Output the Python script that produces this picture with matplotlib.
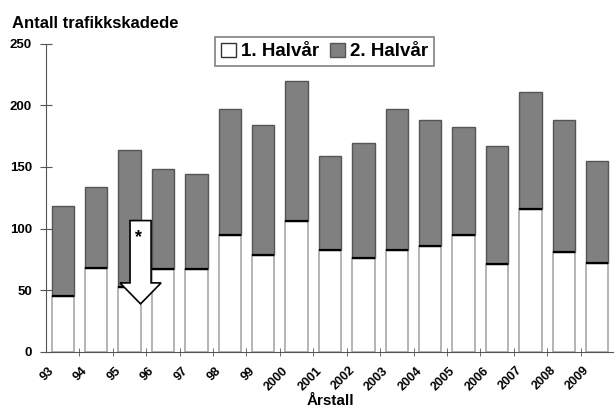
import matplotlib.pyplot as plt
import matplotlib.transforms as mtransforms
from matplotlib.patches import FancyArrow, Patch
import numpy as np

plt.rcParams['font.family'] = ['Liberation Sans', 'DejaVu Sans']
plt.rcParams['font.weight'] = 'bold'

# data
years = ['93', '94', '95', '96', '97', '98', '99', '2000', '2001', '2002',
         '2003', '2004', '2005', '2006', '2007', '2008', '2009']
first_half = [45, 68, 53, 67, 67, 95, 79, 106, 83, 76, 83, 86, 95, 71, 116, 81, 72]
second_half = [73, 66, 111, 81, 77, 102, 105, 114, 76, 93, 114, 102, 87, 96, 95, 107, 83]

x = np.arange(len(years))
w = 0.67

fig = plt.figure(figsize=(6.14, 4.12), dpi=100)
ax = fig.add_axes([46/614, 60/412, 568/614, 308.5/412])

ax.bar(x, first_half, w, color='white', edgecolor='#a0a0a0', linewidth=1.1)
ax.bar(x, second_half, w, bottom=first_half, color='#808080',
       edgecolor='#555555', linewidth=1)
ax.hlines(first_half, x - w/2, x + w/2, color='black', linewidth=1.6)

# arrow marking 95
arr = FancyArrow(2.33, 106.5, 0, -67.5, width=0.63, head_width=1.23,
                 head_length=17, length_includes_head=True,
                 facecolor='white', edgecolor='black', linewidth=1.2, zorder=5)
ax.add_patch(arr)
ax.text(2.27, 93, '*', ha='center', va='center', fontsize=13,
        fontweight='bold', zorder=6)

ax.set_xlim(-0.5, len(years) - 0.5)
ax.set_ylim(0, 250)
ax.set_yticks([0, 50, 100, 150, 200, 250])

ax.set_xticks(x)
ax.set_xticklabels(years, rotation=45, ha='right', fontsize=9)
ax.set_xticks(x + 0.5, minor=True)
ax.tick_params(axis='x', which='major', length=0, pad=9)
ax.tick_params(axis='x', which='minor', length=6, direction='inout',
               color='#555555')
ax.tick_params(axis='y', length=8, direction='inout', color='#555555',
               labelsize=9.5, pad=6)
shift = mtransforms.ScaledTranslation(-0.06, 0, fig.dpi_scale_trans)
for lab in ax.get_xticklabels():
    lab.set_transform(lab.get_transform() + shift)

for s in ['top', 'right']:
    ax.spines[s].set_visible(False)
for s in ['left', 'bottom']:
    ax.spines[s].set_color('#555555')

ax.set_xlabel('Årstall', fontsize=11, fontweight='bold', labelpad=1)
fig.text(12/614, 1 - 24/412, 'Antall trafikkskadede', fontsize=12,
         fontweight='bold', va='center', ha='left')

handles = [Patch(facecolor='white', edgecolor='#333333', linewidth=1),
           Patch(facecolor='#808080', edgecolor='#555555', linewidth=1)]
leg = fig.legend(handles, ['1. Halvår', '2. Halvår'], loc='center',
                 bbox_to_anchor=(324.5/614, 1 - 51.5/412), ncol=2,
                 fancybox=False, edgecolor='#808080', fontsize=13.5,
                 handlelength=0.8, handleheight=0.8, handletextpad=0.25,
                 columnspacing=0.6, borderpad=0.3, framealpha=1)
leg.get_frame().set_linewidth(1.2)

fig.savefig('out.png', dpi=100)
